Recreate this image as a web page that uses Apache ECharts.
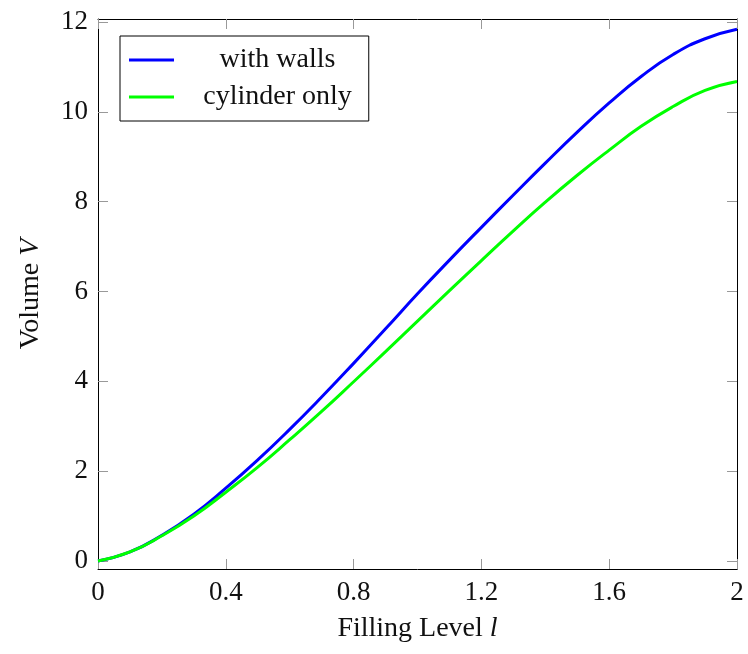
<!DOCTYPE html>
<html>
<head>
<meta charset="utf-8">
<script src="https://cdn.jsdelivr.net/npm/echarts@6/dist/echarts.min.js"></script>
<style>
html,body{margin:0;padding:0;background:#fff;}
#chart{width:748px;height:654px;}
</style>
</head>
<body>
<div id="chart"></div>
<script>
// 数据
var levels = [0, 0.1, 0.2, 0.3, 0.4, 0.5, 0.6, 0.7, 0.8, 0.9, 1.0, 1.1, 1.2, 1.3, 1.4, 1.5, 1.6, 1.7, 1.8, 1.9, 2.0];
var withWalls = [0, 0.2, 0.57, 1.04, 1.62, 2.25, 2.93, 3.65, 4.40, 5.17, 5.95, 6.70, 7.43, 8.15, 8.86, 9.55, 10.20, 10.79, 11.28, 11.63, 11.84];
var cylinderOnly = [0, 0.2, 0.56, 1.0, 1.53, 2.09, 2.70, 3.33, 3.99, 4.66, 5.34, 6.02, 6.69, 7.35, 7.99, 8.59, 9.15, 9.68, 10.12, 10.48, 10.68];
var yTicks = [0, 2, 4, 6, 8, 10, 12];
var seriesNames = ["with walls", "cylinder only"];

function pairs(xs, ys){
	var out = [];
	for(var i in xs){
		out.push([xs[i], ys[i]]);
	}
	return out;
}

var font = "'Liberation Serif', 'DejaVu Serif', serif";
var myChart = echarts.init(document.getElementById('chart'));

//四周的边框和刻度
var tickStyle = {show:true, inside:true, length:10, lineStyle:{color:"#999"}};
var lineStyle = {show:true, onZero:false, lineStyle:{color:"#000", width:1}};

var option = {
	animation:false,
	textStyle:{fontFamily:font},
	grid:{left:98, right:11, top:19, bottom:85},
	legend:{
		left:120,
		top:36,
		orient:"vertical",
		icon:"rect",
		itemWidth:45,
		itemHeight:3,
		itemGap:9,
		padding:[10,17,10,9],
		borderColor:"#000",
		borderWidth:1,
		backgroundColor:"#fff",
		borderRadius:0,
		formatter:function(name){ return "{c|" + name + "}"; },
		textStyle:{
			fontFamily:font,
			fontSize:28,
			color:"#111",
			rich:{c:{width:197, align:"center", fontFamily:font, fontSize:28, color:"#111"}}
		},
		data:seriesNames
	},
	xAxis:[{
		type:"value",
		min:0,
		max:2,
		interval:0.4,
		position:"bottom",
		name:"{a|Filling Level }{i|l}",
		nameLocation:"middle",
		nameGap:46,
		nameTextStyle:{
			rich:{
				a:{fontFamily:font, fontSize:28, color:"#111"},
				i:{fontFamily:font, fontSize:28, fontStyle:"italic", color:"#111"}
			}
		},
		splitLine:{show:false},
		axisLine:lineStyle,
		axisTick:tickStyle,
		axisLabel:{fontFamily:font, fontSize:27, color:"#111", margin:10,
			formatter:function(v){ return String(+v.toFixed(1)); }}
	},{
		type:"value",
		min:0,
		max:2,
		interval:0.4,
		position:"top",
		splitLine:{show:false},
		axisLine:lineStyle,
		axisTick:tickStyle,
		axisLabel:{show:false}
	}],
	yAxis:[{
		type:"value",
		min:-0.18,
		max:12.07,
		position:"left",
		name:"{a|Volume }{i|V}",
		nameLocation:"middle",
		nameGap:53,
		nameRotate:90,
		nameTextStyle:{
			rich:{
				a:{fontFamily:font, fontSize:28, color:"#111"},
				i:{fontFamily:font, fontSize:28, fontStyle:"italic", color:"#111"}
			}
		},
		splitLine:{show:false},
		axisLine:lineStyle,
		axisTick:{show:true, inside:true, length:10, lineStyle:{color:"#999"}, customValues:yTicks},
		axisLabel:{fontFamily:font, fontSize:27, color:"#111", margin:10, customValues:yTicks}
	},{
		type:"value",
		min:-0.18,
		max:12.07,
		position:"right",
		splitLine:{show:false},
		axisLine:lineStyle,
		axisTick:{show:true, inside:true, length:10, lineStyle:{color:"#999"}, customValues:yTicks},
		axisLabel:{show:false, customValues:yTicks}
	}],
	series:[{
		name:seriesNames[0],
		type:"line",
		data:pairs(levels, withWalls),
		smooth:true,
		showSymbol:false,
		color:"#0000ff",
		lineStyle:{width:3, color:"#0000ff"}
	},{
		name:seriesNames[1],
		type:"line",
		data:pairs(levels, cylinderOnly),
		smooth:true,
		showSymbol:false,
		color:"#00ff00",
		lineStyle:{width:3, color:"#00ff00"}
	}]
};
myChart.setOption(option);
</script>
</body>
</html>
